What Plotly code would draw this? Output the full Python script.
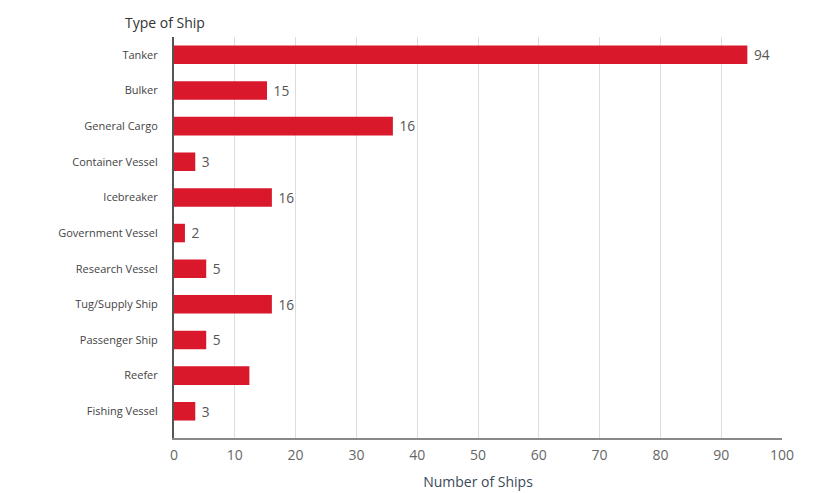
import plotly.graph_objects as go

categories = ["Tanker", "Bulker", "General Cargo", "Container Vessel", "Icebreaker",
              "Government Vessel", "Research Vessel", "Tug/Supply Ship", "Passenger Ship",
              "Reefer", "Fishing Vessel"]
bar_values = [94.3, 15.3, 36, 3.5, 16.1, 1.8, 5.3, 16.1, 5.3, 12.4, 3.5]
value_labels = ["94", "15", "16", "3", "16", "2", "5", "16", "5", "", "3"]
x_ticks = [0, 10, 20, 30, 40, 50, 60, 70, 80, 90, 100]

FONT = "Open Sans"

fig = go.Figure(go.Bar(
    x=bar_values, y=categories, orientation="h",
    marker=dict(color="#d9192b", line=dict(width=0)),
    width=0.52,
    text=value_labels, texttemplate=" %{text}", textposition="outside", cliponaxis=False,
    textfont=dict(family=FONT, size=17, color="#555555"),
))

# page body has an 8px default margin, so margins are offset to compensate
fig.update_layout(
    width=817, height=493,
    margin=dict(l=166, r=43, t=29, b=63, autoexpand=False),
    paper_bgcolor="white", plot_bgcolor="white",
    showlegend=False,
    font=dict(family=FONT),
    xaxis=dict(range=[0, 100], tickvals=x_ticks, showgrid=True, gridcolor="#dddddd",
               gridwidth=1, zeroline=False, showline=True, linecolor="#888888",
               linewidth=2, tickfont=dict(family=FONT, size=14, color="#666666"),
               ticks="", ticklabelstandoff=3,
               title=dict(text="Number of Ships", standoff=14,
                          font=dict(family=FONT, size=14, color="#3a4a5a"))),
    yaxis=dict(type="category", categoryorder="array", categoryarray=categories,
               range=[10.75, -0.5], showgrid=False, zeroline=False, showline=True,
               linecolor="#555555", linewidth=2, ticks="outside", ticklen=12,
               tickcolor="rgba(0,0,0,0)",
               tickfont=dict(family=FONT, size=11, color="#444444")),
    annotations=[dict(text="Type of Ship", xref="paper", yref="paper", x=-0.084, y=1.037,
                      xanchor="left", yanchor="middle", showarrow=False,
                      font=dict(family=FONT, size=14, color="#333333"))],
)

fig.write_html("out.html")
